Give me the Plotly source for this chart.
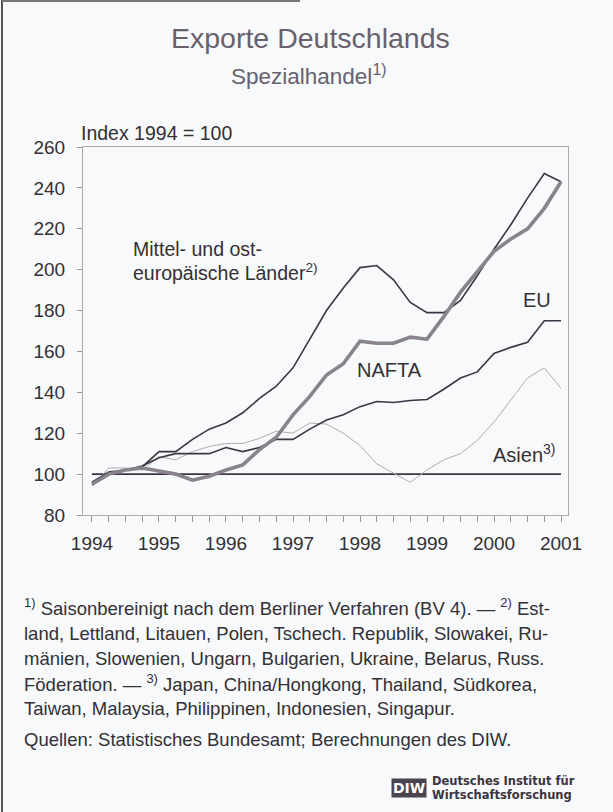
import plotly.graph_objects as go

# quarterly points, 1994 Q1 .. 2001 Q1 (as decimal years)
quarters = [1994.0, 1994.25, 1994.5, 1994.75,
            1995.0, 1995.25, 1995.5, 1995.75,
            1996.0, 1996.25, 1996.5, 1996.75,
            1997.0, 1997.25, 1997.5, 1997.75,
            1998.0, 1998.25, 1998.5, 1998.75,
            1999.0, 1999.25, 1999.5, 1999.75,
            2000.0, 2000.25, 2000.5, 2000.75,
            2001.0]

# Index 1994 = 100
moe = [96, 101, 102, 103.5, 111, 111, 117, 122, 125, 130, 137, 143, 152, 166, 180,
       191, 201, 202, 195, 184, 179, 179, 185, 197, 210, 222, 235, 247, 243]
eu = [95, 100, 102, 104, 108, 110, 110, 110, 113, 111, 113, 117, 117, 122, 126.5,
      129, 133, 135.5, 135, 136, 136.5, 141.5, 147, 150, 159, 162, 164.5, 175, 175]
nafta = [95, 100, 102, 103, 101.5, 100, 97, 99, 102, 104.5, 112, 118, 129, 138, 148.5,
         154, 165, 164, 164, 167, 166, 177, 189, 199, 209, 215, 220, 230, 243]
asien = [94, 103, 103, 102, 108.5, 107, 111, 113.5, 115, 115, 117.5, 121, 120, 125, 124.5,
         120, 114, 105, 100.5, 96, 102, 107, 110, 116.5, 125.5, 136, 147, 152, 142]

base_x = [1994.0, 2001.0]
base_y = [100, 100]

year_ticks = [1994, 1995, 1996, 1997, 1998, 1999, 2000, 2001]

W, H = 613, 812
L, R, T, B = 83, 568, 147, 515   # plot area in page pixels

bg = "#f7f9fa"
dark = "#3d3545"
txt = "#333036"

def px(x, y):
    # page pixel -> paper coordinates
    return (x - L) / (R - L), (B - y) / (B - T)

fig = go.Figure()
fig.add_trace(go.Scatter(x=base_x, y=base_y, mode="lines",
                         line=dict(color=dark, width=1.6), hoverinfo="skip"))
fig.add_trace(go.Scatter(x=quarters, y=asien, mode="lines", name="Asien",
                         line=dict(color="#aeadb1", width=1)))
fig.add_trace(go.Scatter(x=quarters, y=eu, mode="lines", name="EU",
                         line=dict(color=dark, width=1.6)))
fig.add_trace(go.Scatter(x=quarters, y=moe, mode="lines", name="MOE",
                         line=dict(color=dark, width=1.6)))
fig.add_trace(go.Scatter(x=quarters, y=nafta, mode="lines", name="NAFTA",
                         line=dict(color="#88838c", width=3.6)))

fig.update_layout(
    width=W, height=H,
    margin=dict(l=L, r=W - R, t=T, b=H - B, autoexpand=False),
    paper_bgcolor=bg, plot_bgcolor=bg,
    showlegend=False,
    font=dict(family="Liberation Sans, Arial, sans-serif", color=txt),
)
fig.update_xaxes(range=[1993.866, 2001.104], tickvals=year_ticks,
                 ticktext=[str(y) for y in year_ticks],
                 ticks="outside", ticklen=6, tickcolor="#999", ticklabelstandoff=5,
                 minor=dict(dtick=0.25, tick0=1994, ticks="outside", ticklen=6, tickcolor="#999"),
                 showline=True, linecolor="#aaa", linewidth=1, mirror=True,
                 showgrid=False, zeroline=False,
                 tickfont=dict(size=19, color=txt))
fig.update_yaxes(range=[80, 260], dtick=20, ticks="outside", ticklen=5, tickcolor="#999",
                 ticklabelstandoff=8,
                 showline=True, linecolor="#aaa", linewidth=1, mirror=True,
                 showgrid=False, zeroline=False,
                 tickfont=dict(size=19, color=txt))

def label(x, y, text, size, xanchor="left", color=txt, family=None, **kw):
    xp, yp = px(x, y)
    f = dict(size=size, color=color)
    if family:
        f["family"] = family
    fig.add_annotation(x=xp, y=yp, xref="paper", yref="paper", text=text,
                       showarrow=False, xanchor=xanchor, yanchor="middle",
                       align="left", font=f, **kw)

# titles
label(310, 38, "Exporte Deutschlands", 28.5, xanchor="center", color="#67616c")
label(308, 75, "Spezialhandel<sup>1)</sup>", 22.5, xanchor="center", color="#67616c")

# labels inside the chart
label(79, 133, "Index 1994 = 100", 19.5)
label(131, 249, "Mittel- und ost-", 19.5)
label(131, 272, "europäische Länder<sup>2)</sup>", 19.5)
label(521, 300, "EU", 20)
label(355, 370, "NAFTA", 20)
label(491, 453, "Asien<sup>3)</sup>", 20)

footer = [(607, "<sup>1)</sup> Saisonbereinigt nach dem Berliner Verfahren (BV 4). — <sup>2)</sup> Est-"),
          (633, "land, Lettland, Litauen, Polen, Tschech. Republik, Slowakei, Ru-"),
          (658, "mänien, Slowenien, Ungarn, Bulgarien, Ukraine, Belarus, Russ."),
          (683, "Föderation. — <sup>3)</sup> Japan, China/Hongkong, Thailand, Südkorea,"),
          (708, "Taiwan, Malaysia, Philippinen, Indonesien, Singapur."),
          (739, "Quellen: Statistisches Bundesamt; Berechnungen des DIW.")]
for y, t in footer:
    label(22, y, t, 18.5)

# DIW logo
label(409, 788, "<b>DIW</b>", 14, xanchor="center", color="#ffffff",
      family="DejaVu Sans", bgcolor="#4a4450", borderpad=1)
label(430, 781, "<b>Deutsches Institut für</b>", 11.5, color="#3b3442", family="DejaVu Sans")
label(430, 795, "<b>Wirtschaftsforschung</b>", 11.5, color="#3b3442", family="DejaVu Sans")

# frame lines on the page edges
x0, _ = px(2, 0)
_, y0 = px(0, 0)
_, y1 = px(0, H)
fig.add_shape(type="line", xref="paper", yref="paper", x0=x0, x1=x0, y0=y0, y1=y1,
              line=dict(color="#555", width=2))
_, yt = px(0, 1)
x1, _ = px(300, 0)
fig.add_shape(type="line", xref="paper", yref="paper", x0=x0, x1=x1, y0=yt, y1=yt,
              line=dict(color="#777", width=2))

fig.write_html("out.html", config={"displayModeBar": False},
               post_script="document.body.style.margin='0';document.body.style.padding='0';")
